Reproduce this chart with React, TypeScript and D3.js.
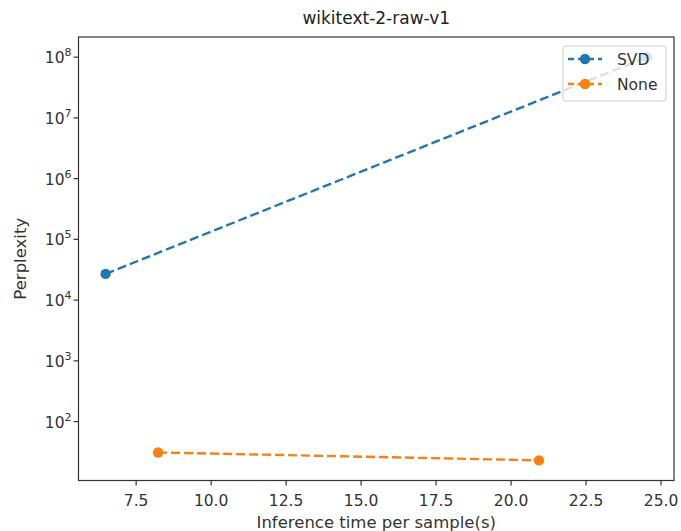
import React from "react";
import * as d3 from "d3";

const svdX = [6.48, 24.53];
const svdY = [27000, 1.0e8];
const noneX = [8.23, 20.93];
const noneY = [31, 23];
const xTicks = [7.5, 10.0, 12.5, 15.0, 17.5, 20.0, 22.5, 25.0];
const yTicks = [1e2, 1e3, 1e4, 1e5, 1e6, 1e7, 1e8];
const seriesNames = ["SVD", "None"];
const colors = ["#1f77b4", "#ff7f0e"];

const W = 681, H = 531;
const L = 78.5, R = 674, T = 37, B = 480.5;
const FONT = "DejaVu Sans, sans-serif";

export default function App() {
  const allX = [...svdX, ...noneX];
  const allY = [...svdY, ...noneY];
  const xmin = d3.min(allX)!, xmax = d3.max(allX)!;
  const xm = (xmax - xmin) * 0.05;
  const lymin = Math.log10(d3.min(allY)!), lymax = Math.log10(d3.max(allY)!);
  const ym = (lymax - lymin) * 0.05;
  const x = d3.scaleLinear().domain([xmin - xm, xmax + xm]).range([L, R]);
  const y = d3.scaleLog().domain([Math.pow(10, lymin - ym), Math.pow(10, lymax + ym)]).range([B, T]);
  const line = d3.line<[number, number]>().x(d => x(d[0])).y(d => y(d[1]));
  const series = [
    svdX.map((v, i) => [v, svdY[i]] as [number, number]),
    noneX.map((v, i) => [v, noneY[i]] as [number, number]),
  ];
  const dash = "9,4";
  const lw = 2.4;
  const sup = (v: number) => Math.round(Math.log10(v));
  const lgX = 563, lgY = 46, lgW = 103, lgH = 55;
  return (
    <svg width={W} height={H} style={{ position: "absolute", left: 0, top: 0, background: "#fff" }} fontFamily={FONT}>
      <rect x={0} y={0} width={W} height={H} fill="#fff" />
      <text x={(L + R) / 2} y={24} textAnchor="middle" fontSize={17} fill="#222">wikitext-2-raw-v1</text>
      <defs>
        <clipPath id="clip"><rect x={L} y={T} width={R - L} height={B - T} /></clipPath>
      </defs>
      <g clipPath="url(#clip)">
        {series.map((s, i) => (
          <g key={i}>
            <path d={line(s)!} fill="none" stroke={colors[i]} strokeWidth={lw} strokeDasharray={dash} />
            {s.map((p, j) => (
              <circle key={j} cx={x(p[0])} cy={y(p[1])} r={5.2} fill={colors[i]} />
            ))}
          </g>
        ))}
      </g>
      <rect x={L} y={T} width={R - L} height={B - T} fill="none" stroke="#333" strokeWidth={1.2} />
      {xTicks.map(t => (
        <g key={t} transform={`translate(${x(t)},${B})`}>
          <line y1={0} y2={5} stroke="#333" strokeWidth={1.2} />
          <text y={25} textAnchor="middle" fontSize={15.5} fill="#333">{t.toFixed(1)}</text>
        </g>
      ))}
      {yTicks.map(t => (
        <g key={t} transform={`translate(${L},${y(t)})`}>
          <line x1={0} x2={-5} stroke="#333" strokeWidth={1.2} />
          <text x={-7} y={6} textAnchor="end" fontSize={15.5} fill="#333">
            10<tspan dy={-7} fontSize={11}>{sup(t)}</tspan>
          </text>
        </g>
      ))}
      <text x={(L + R) / 2} y={528} textAnchor="middle" fontSize={16.5} fill="#333">Inference time per sample(s)</text>
      <text transform={`translate(26,${(T + B) / 2}) rotate(-90)`} textAnchor="middle" fontSize={16.5} fill="#333">Perplexity</text>
      <rect x={lgX} y={lgY} width={lgW} height={lgH} rx={3} fill="#fff" fillOpacity={0.8} stroke="#ccc" strokeWidth={1} />
      {seriesNames.map((n, i) => {
        const cy = lgY + 13 + i * 25;
        return (
          <g key={n}>
            <line x1={lgX + 5} x2={lgX + 39} y1={cy} y2={cy} stroke={colors[i]} strokeWidth={lw} strokeDasharray="6,4" />
            <circle cx={lgX + 22} cy={cy} r={5.2} fill={colors[i]} />
            <text x={lgX + 54} y={cy + 6} fontSize={15.5} fill="#333">{n}</text>
          </g>
        );
      })}
    </svg>
  );
}
